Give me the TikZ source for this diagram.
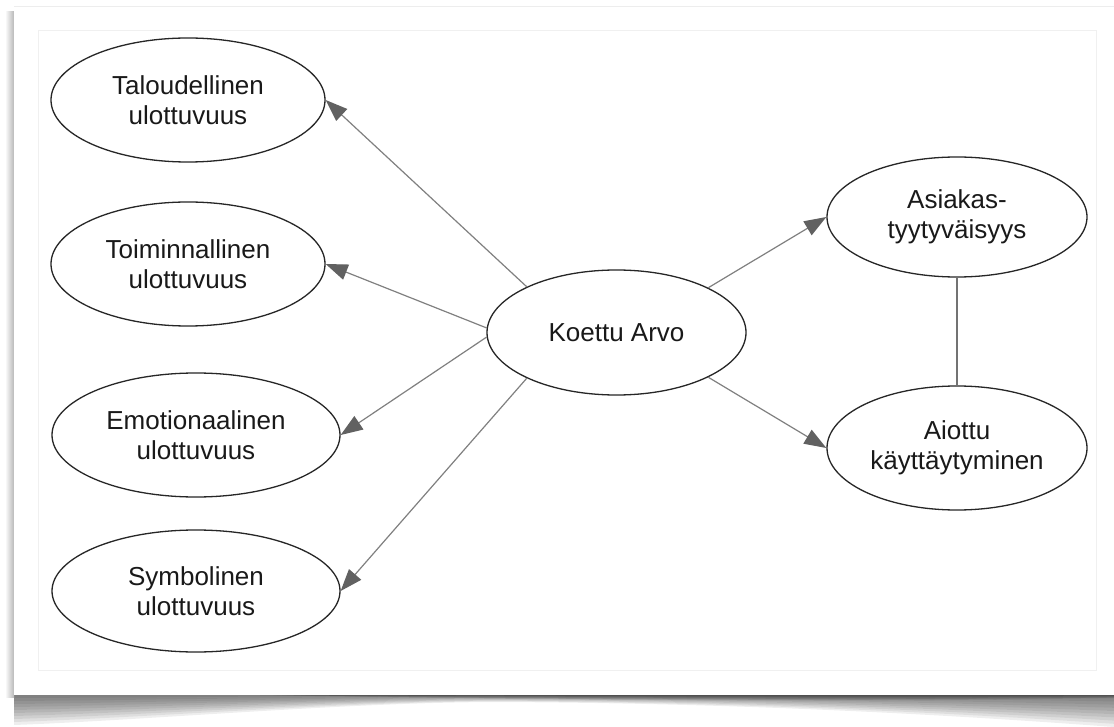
\documentclass[tikz,border=0pt]{standalone}
\usepackage{fontspec}
\setmainfont{Liberation Sans}
\usetikzlibrary{shapes.geometric,arrows.meta}
\begin{document}
\begin{tikzpicture}[x=1pt,y=-1pt,
  dim/.style={ellipse, draw=black!85, line width=1.3pt, fill=white, inner sep=0pt,
    align=center, text=black!90, font=\fontsize{26}{30}\selectfont},
  link/.style={draw=black!50, line width=1.2pt,
    -{Triangle[length=22pt,width=16pt,color=black!62]}},
  plainlink/.style={draw=black!55, line width=1.2pt}]
\useasboundingbox (0,0) rectangle (1114,727);

% soft shadow under the card (curled page)
\foreach \k in {1,...,10}{
  \fill[black, opacity=0.065]
    (14,695) -- (1114,695) -- (1114,{695+3.2*\k})
    .. controls (900,{695+1.6*\k}) and (700,{695+0.8*\k}) .. (500,{695+0.7*\k})
    .. controls (350,{695+0.7*\k}) and (150,{695+2.5*\k}) .. (14,{695+3.0*\k}) -- cycle;
}
\foreach \k in {1,...,5}{
  \fill[black, opacity=0.09]
    (260,695) .. controls (500,{695+0.9*\k}) and (800,{695+1.6*\k}) .. (1114,{695+0.6*\k})
    -- (1114,695) -- cycle;
}
% shadow along the left edge
\shade[left color=white, right color=black!28] (5,12) rectangle (14,697);

% card and inner frame
\fill[white] (14,7) rectangle (1114,695);
\draw[black!7, line width=1pt] (14,7) -- (1114,7);
\draw[black!6, line width=1pt] (38,31) rectangle (1096,670);

% nodes
\node[dim, minimum width=274pt, minimum height=124pt] (tal) at (188,100) {Taloudellinen\\ulottuvuus};
\node[dim, minimum width=274pt, minimum height=124pt] (toi) at (188,264) {Toiminnallinen\\ulottuvuus};
\node[dim, minimum width=288pt, minimum height=124pt] (emo) at (196,435) {Emotionaalinen\\ulottuvuus};
\node[dim, minimum width=288pt, minimum height=122pt] (sym) at (196,591) {Symbolinen\\ulottuvuus};
\node[dim, minimum width=259pt, minimum height=125pt] (arvo) at (616.5,332.5) {Koettu Arvo};
\node[dim, minimum width=260pt, minimum height=120pt] (asi) at (957,217) {Asiakas-\\tyytyväisyys};
\node[dim, minimum width=260pt, minimum height=124pt] (aio) at (957,448) {Aiottu\\käyttäytyminen};

% connectors
\draw[link] (arvo.153) -- (tal.east);
\draw[link] (arvo.178) -- (toi.east);
\draw[link] (arvo.182) -- (emo.east);
\draw[link] (arvo.207) -- (sym.east);
\draw[link] (arvo.26) -- (asi.west);
\draw[link] (arvo.334) -- (aio.west);
\draw[plainlink] (asi.south) -- (aio.north);
\end{tikzpicture}
\end{document}
